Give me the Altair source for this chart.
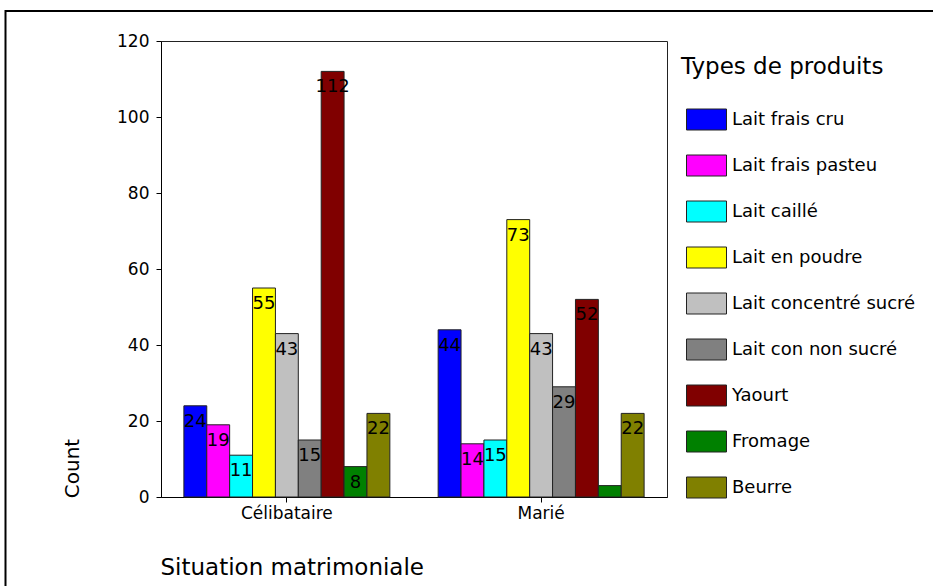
import altair as alt
import pandas as pd

situations = ["Célibataire", "Marié"]
types = ["Lait frais cru", "Lait frais pasteu", "Lait caillé", "Lait en poudre",
         "Lait concentré sucré", "Lait con non sucré", "Yaourt", "Fromage", "Beurre"]
colors = ["#0000FF", "#FF00FF", "#00FFFF", "#FFFF00", "#C0C0C0",
          "#808080", "#800000", "#008000", "#808000"]
counts_celibataire = [24, 19, 11, 55, 43, 15, 112, 8, 22]
counts_marie = [44, 14, 15, 73, 43, 29, 52, 3, 22]

rows = []
for s, vals in zip(situations, [counts_celibataire, counts_marie]):
    for t, v in zip(types, vals):
        rows.append({"Situation": s, "Type": t, "Count": v})
df = pd.DataFrame(rows)

FONT = "DejaVu Sans"
W, H = 506, 456
PL, PT = 161, 41

x_enc = alt.X("Situation:N", sort=situations,
              scale=alt.Scale(paddingInner=0.19, paddingOuter=0.09),
              axis=alt.Axis(labelAngle=0, title="Situation matrimoniale",
                            titleX=-1, titleY=77, titleAlign="left",
                            titleBaseline="alphabetic", titleFontSize=23,
                            titleFontWeight="normal", labelFontSize=17,
                            labelPadding=3, tickSize=5))
xo_enc = alt.XOffset("Type:N", sort=types, scale=alt.Scale(paddingInner=0, paddingOuter=0))
y_enc = alt.Y("Count:Q", scale=alt.Scale(domain=[0, 120], nice=False),
              axis=alt.Axis(values=[0, 20, 40, 60, 80, 100, 120], grid=False,
                            title="Count", titleX=-89, titleY=427, titleAngle=270,
                            titleAlign="center", titleBaseline="middle",
                            titleFontSize=20, titleFontWeight="normal",
                            labelFontSize=17, labelPadding=7, tickSize=5))

base = alt.Chart(df)

bars = base.mark_bar(stroke="#222222", strokeWidth=1).encode(
    x=x_enc, xOffset=xo_enc, y=y_enc,
    color=alt.Color("Type:N", sort=types,
                    scale=alt.Scale(domain=types, range=colors),
                    legend=alt.Legend(
                        title="Types de produits", orient="none",
                        legendX=520, legendY=15, padding=0,
                        titleFontSize=23, titleFontWeight="normal",
                        titleFont=FONT, titleColor="black", titleLimit=0,
                        titlePadding=20, titleBaseline="top",
                        labelFont=FONT, labelFontSize=18, labelColor="black",
                        labelOffset=10, labelLimit=0,
                        symbolType="M-0.75,-0.525H1.25V0.525H-0.75Z",
                        symbolSize=1600, symbolStrokeColor="#222222",
                        symbolStrokeWidth=1, symbolOpacity=1,
                        rowPadding=13)),
)

labels = base.transform_filter("datum.Count >= 5").mark_text(
    font=FONT, fontSize=18, color="black", baseline="middle", dy=16
).encode(x=x_enc, xOffset=xo_enc, y=y_enc, text="Count:Q")

frame = alt.Chart(pd.DataFrame({"a": [0]})).mark_rect(
    fill=None, stroke="black", strokeWidth=2
).encode(x=alt.value(-155.5), x2=alt.value(933 - PL + 20),
         y=alt.value(-30), y2=alt.value(586 - PT + 20))

chart = alt.layer(bars, labels, frame).properties(
    width=W, height=H,
    autosize=alt.AutoSizeParams(type="none"),
    padding={"left": PL, "top": PT, "right": 933 - PL - W, "bottom": 586 - PT - H},
    background="white",
).configure_view(stroke="#222222", strokeWidth=1).configure_axis(
    domainColor="black", tickColor="black", labelColor="black", titleColor="black",
    labelFont=FONT, titleFont=FONT
)

chart.save("out.html", embed_options={"renderer": "svg", "actions": False})
